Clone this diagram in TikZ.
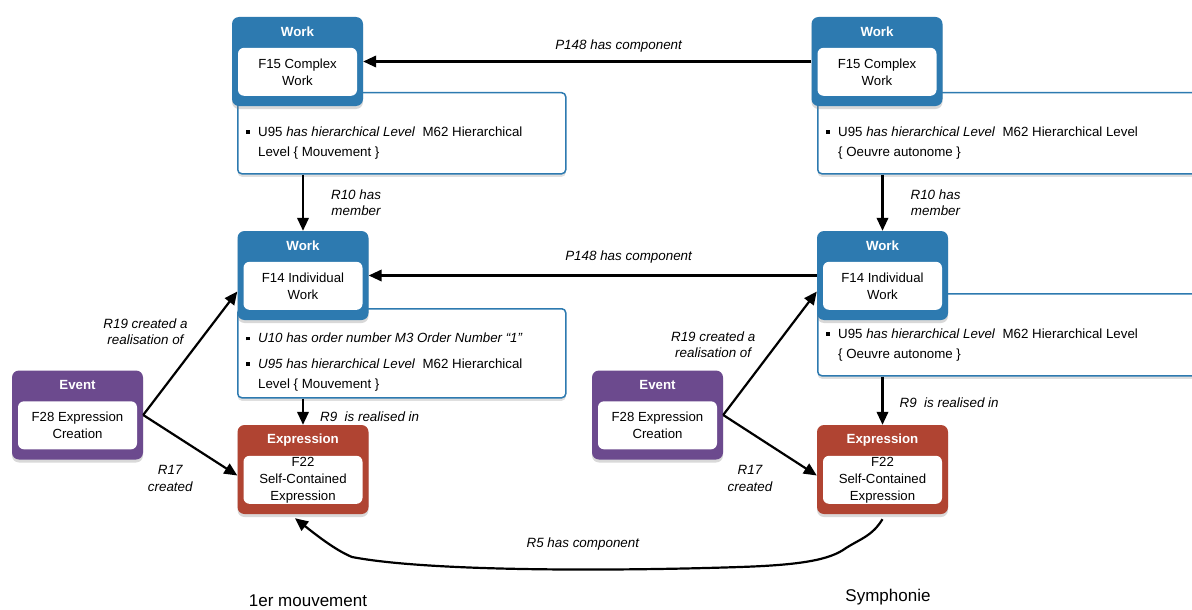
\documentclass[tikz,border=0pt]{standalone}
\usepackage{fontspec}
\setmainfont{Liberation Sans}
\usetikzlibrary{arrows.meta,shadows,positioning}
\definecolor{workblue}{RGB}{45,122,176}
\definecolor{eventpurple}{RGB}{108,74,142}
\definecolor{exprred}{RGB}{176,68,50}
\newcommand\sqb{\rule[2.5pt]{3.5pt}{3.5pt}\hspace{8.5pt}}

\begin{document}
\begin{tikzpicture}[x=1pt,y=-1pt]
        \tikzset{cls/.style={fill=#1, rounded corners=7pt, minimum width=131pt, minimum height=89pt, inner sep=0pt,
                drop shadow={shadow xshift=0pt, shadow yshift=-3pt, opacity=.3}},
            ttl/.style={text=white, font=\fontsize{13.3}{15}\selectfont\bfseries},
            inbox/.style={fill=white, rounded corners=6pt, minimum width=119pt, minimum height=48pt, inner sep=0pt,
                align=center, font=\fontsize{13.2}{17}\selectfont},
            prop/.style={draw=workblue, line width=1.5pt, fill=white, rounded corners=4pt, anchor=north west, inner sep=0pt,
                drop shadow={shadow xshift=0pt, shadow yshift=-3pt, opacity=.25}},
            bul/.style={anchor=west, align=left, inner sep=0pt, font=\fontsize{13.3}{20}\selectfont},
            rel/.style={-{Triangle[length=13pt,width=11.5pt]}, line width=2.2pt},
            lbl/.style={font=\fontsize{13.4}{16.5}\selectfont\itshape, inner sep=1pt},
            capt/.style={font=\fontsize{17}{20}\selectfont}}
        \useasboundingbox (0,0) rectangle (1192,610);
        \clip (0,0) rectangle (1192,610);

        % property boxes
        \node[prop, minimum width=328pt, minimum height=81pt] (hlvL) at (237,92) {};
        \node[prop, minimum width=328pt, minimum height=89pt] (ordL) at (237,308) {};
        \node[prop, minimum width=400pt, minimum height=81pt] (hlvR) at (817,92) {};
        \node[prop, minimum width=400pt, minimum height=82pt] (ordR) at (817,293) {};
        \node[bul] (hlvLt) at (258,143) {\llap{\sqb}U95 \textit{has hierarchical Level}\ \ M62 Hierarchical\\Level \{ Mouvement \}};
        \node[bul] (ordLa) at (258,338) {\llap{\sqb}\textit{U10 has order number M3 Order Number “1”}};
        \node[bul] (ordLb) at (258,375) {\llap{\sqb}\textit{U95 has hierarchical Level}\ \ M62 Hierarchical\\Level \{ Mouvement \}};
        \node[bul] (hlvRt) at (838,143) {\llap{\sqb}U95 \textit{has hierarchical Level}\ \ M62 Hierarchical Level\\\{ Oeuvre autonome \}};
        \node[bul] (ordRt) at (838,345) {\llap{\sqb}U95 \textit{has hierarchical Level}\ \ M62 Hierarchical Level\\\{ Oeuvre autonome \}};

        % left: 1er mouvement
        \node[cls=workblue] (cwL) at (297.5,61.5) {};
        \node[ttl] at ([yshift=-15pt]cwL.north) {Work};
        \node[inbox] at ([yshift=-55pt]cwL.north) {F15 Complex\\Work};
        \node[cls=workblue] (ciL) at (303,275.5) {};
        \node[ttl] at ([yshift=-15pt]ciL.north) {Work};
        \node[inbox] at ([yshift=-55pt]ciL.north) {F14 Individual\\Work};
        \node[cls=exprred] (ceL) at (303,469.5) {};
        \node[ttl] at ([yshift=-15pt]ceL.north) {Expression};
        \node[inbox] at ([yshift=-55pt]ceL.north) {F22\\Self-Contained\\Expression};
        \node[cls=eventpurple] (evL) at (77.5,415) {};
        \node[ttl] at ([yshift=-15pt]evL.north) {Event};
        \node[inbox] at ([yshift=-55pt]evL.north) {F28 Expression\\Creation};

        % right: Symphonie
        \node[cls=workblue] (cwR) at (877,61.5) {};
        \node[ttl] at ([yshift=-15pt]cwR.north) {Work};
        \node[inbox] at ([yshift=-55pt]cwR.north) {F15 Complex\\Work};
        \node[cls=workblue] (ciR) at (882.5,275.5) {};
        \node[ttl] at ([yshift=-15pt]ciR.north) {Work};
        \node[inbox] at ([yshift=-55pt]ciR.north) {F14 Individual\\Work};
        \node[cls=exprred] (ceR) at (882.5,469.5) {};
        \node[ttl] at ([yshift=-15pt]ceR.north) {Expression};
        \node[inbox] at ([yshift=-55pt]ceR.north) {F22\\Self-Contained\\Expression};
        \node[cls=eventpurple] (evR) at (657.5,415) {};
        \node[ttl] at ([yshift=-15pt]evR.north) {Event};
        \node[inbox] at ([yshift=-55pt]evR.north) {F28 Expression\\Creation};

        % relations
        \draw[rel] (cwR.west) -- node[lbl, pos=.43, above=7pt] {P148 has component} (cwL.east);
        \draw[rel] (ciR.west) -- node[lbl, pos=.42, above=10pt] {P148 has component} (ciL.east);
        \draw[rel] (ciL.north |- hlvL.south) -- node[lbl, right=26pt, align=center] {R10 has\\member} (ciL.north);
        \draw[rel] (ciR.north |- hlvR.south) -- node[lbl, right=26pt, align=center] {R10 has\\member} (ciR.north);
        \draw[rel] (ceL.north |- ordL.south) -- node[lbl, pos=.7, anchor=west, xshift=15pt] {R9\ \ is realised in} (ceL.north);
        \draw[rel] (ceR.north |- ordR.south) -- node[lbl, pos=.55, anchor=west, xshift=15pt] {R9\ \ is realised in} (ceR.north);
        \draw[rel] (evL.east) -- node[lbl, pos=.6, anchor=east, xshift=-10pt, yshift=9pt, align=center] {R19 created a\\realisation of} ([yshift=-16pt]ciL.west);
        \draw[rel] (evL.east) -- node[lbl, pos=.5, xshift=-20pt, yshift=-33pt, align=center] {R17\\created} ([yshift=-6pt]ceL.west);
        \draw[rel] (evR.east) -- node[lbl, pos=.6, anchor=east, xshift=-22pt, yshift=-4pt, align=center] {R19 created a\\realisation of} ([yshift=-16pt]ciR.west);
        \draw[rel] (evR.east) -- node[lbl, pos=.5, xshift=-20pt, yshift=-33pt, align=center] {R17\\created} ([yshift=-6pt]ceR.west);
        \draw[rel] ([yshift=-5pt]ceR.south) .. controls (872,536) and (862,538) .. (846,548)
            .. controls (830,560) and (800,565) .. (740,567)
            .. controls (620,571) and (430,572) .. node[lbl, pos=.38, above=17pt] {R5 has component} (352,557)
            .. controls (335,550) and (315,534) .. ([xshift=-8pt,yshift=-4pt]ceL.south);

        \node[capt] (capL) at (308,601) {1er mouvement};
        \node[capt] (capR) at (888,597) {Symphonie};
    \end{tikzpicture}
\end{document}
